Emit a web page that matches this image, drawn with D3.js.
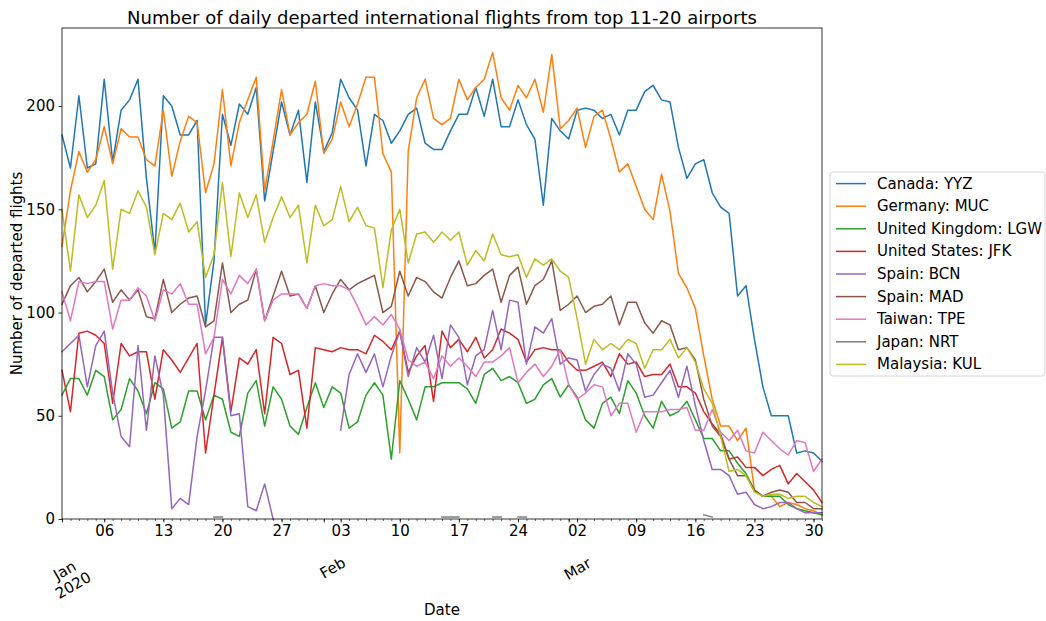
<!DOCTYPE html>
<html><head><meta charset="utf-8">
<script src="https://cdn.jsdelivr.net/npm/d3@7"></script>
<style>body{margin:0;background:#fff;} text{font-family:"DejaVu Sans",sans-serif;fill:#000;}</style>
</head><body><svg id="chart" width="1046" height="621"></svg>
<script>
const startDate = "2020-01-01", endDate = "2020-03-31";
const yTicks = [0, 50, 100, 150, 200];
const monthTicks = ["2020-01-01", "2020-02-01", "2020-03-01"];
const monthLabels = [["Jan", "2020"], ["Feb"], ["Mar"]];
const titleText = "Number of daily departed international flights from top 11-20 airports";
const yLabel = "Number of departed flights";
const xLabel = "Date";
const seriesNames = ["Canada: YYZ", "Germany: MUC", "United Kingdom: LGW", "United States: JFK", "Spain: BCN", "Spain: MAD", "Taiwan: TPE", "Japan: NRT", "Malaysia: KUL"];
const colors = ["#1f77b4", "#ff7f0e", "#2ca02c", "#d62728", "#9467bd", "#8c564b", "#e377c2", "#7f7f7f", "#bcbd22"];

const yyz = [186,170,205,170,172,213,173,198,203,213,165,129,205,200,186,186,193,94,125,196,181,201,196,209,154,178,202,186,198,163,202,
  178,187,213,204,198,171,196,193,182,188,196,199,182,179,179,188,196,196,209,195,213,190,190,203,191,184,152,194,188,
  184,198,199,198,194,196,186,198,198,207,210,203,202,180,165,172,174,158,151,148,108,113,87,64,50,50,50,32,33,32,28];
const muc = [132,159,178,168,174,190,172,189,185,185,174,171,198,166,183,195,192,158,172,208,171,192,203,214,159,183,208,186,192,196,212,
  177,184,202,190,201,214,214,177,168,32,178,204,213,194,191,194,213,203,209,213,226,204,198,210,204,213,197,225,189,
  193,199,180,195,198,184,168,172,161,150,145,167,149,119,112,102,79,58,45,45,38,44,14,11,11,6,8,7,5,4,2];
const lgw = [60,68,68,60,72,69,48,53,68,62,51,66,63,44,47,62,62,48,60,58,42,40,61,67,45,64,58,45,41,54,66,
  54,64,61,44,47,60,66,60,29,67,58,48,64,64,66,66,66,63,56,70,73,67,69,66,56,58,65,68,59,
  65,59,48,44,56,59,51,67,61,50,44,57,50,52,57,48,39,39,33,33,27,22,14,11,11,11,7,5,4,3,2];
const jfk = [72,52,90,91,89,85,56,85,79,81,81,58,82,77,71,78,85,32,60,88,52,78,75,82,51,88,85,70,72,44,83,
  82,81,83,82,82,80,89,86,82,91,71,79,84,57,91,83,87,81,88,78,82,92,90,87,76,82,83,82,82,
  76,72,72,74,76,69,80,75,76,69,70,70,75,64,64,61,52,46,41,29,30,25,25,21,24,26,17,22,18,14,8];
const bcn = [81,85,89,64,84,91,61,40,35,84,43,79,60,5,10,7,40,62,88,88,50,51,6,4,17,0,null,null,null,null,null,
  null,null,43,70,80,71,80,64,79,91,69,83,76,89,68,94,88,65,79,82,101,82,106,105,75,93,90,97,75,
  78,77,62,70,75,73,62,80,75,59,60,66,72,59,74,55,38,24,24,21,12,13,7,5,6,8,8,5,3,3,3];
const mad = [104,113,117,110,115,121,105,111,106,111,98,97,116,100,104,107,108,93,96,124,100,104,106,121,96,108,120,108,109,102,113,
  100,109,116,111,114,116,118,100,103,120,108,117,115,110,107,117,125,113,114,118,121,105,118,122,104,113,116,125,101,
  104,108,100,103,104,108,94,105,105,95,90,96,94,82,83,77,58,45,40,29,21,21,14,11,13,14,13,8,8,5,5];
const tpe = [110,96,115,114,115,115,92,106,106,112,108,96,111,109,114,104,104,80,88,116,109,118,114,121,96,106,109,109,109,102,113,
  114,113,113,111,103,94,98,94,99,92,77,74,76,68,79,74,78,74,69,76,76,79,83,66,71,75,69,74,82,
  65,58,61,65,64,50,56,56,42,52,52,52,53,53,54,43,43,53,42,38,43,33,32,42,38,34,31,38,37,23,29];
const nrt = [null,null,null,null,null,null,null,null,null,null,null,null,null,null,null,null,null,null,1,1,null,null,null,null,null,null,null,null,null,null,null,
  null,null,null,null,null,null,null,null,null,null,null,null,null,null,1,1,1,null,null,null,1,1,null,1,1,null,null,null,null,
  null,null,null,null,null,null,null,null,null,null,null,null,null,null,null,null,2,1,null,null,null,null,null,null,null,null,null,null,null,null,null];
const kul = [150,120,157,146,152,164,121,150,148,159,151,128,148,145,153,139,144,117,128,163,127,158,146,157,134,146,156,146,152,124,152,
  142,145,161,144,151,142,141,112,140,150,124,138,139,134,139,135,139,123,130,125,138,128,127,128,117,126,123,126,120,
  117,97,75,87,82,85,82,87,85,73,82,82,87,78,83,76,63,56,40,23,24,21,13,11,12,12,10,11,11,8,6];
const seriesValues = [yyz, muc, lgw, jfk, bcn, mad, tpe, nrt, kul];

const parse = d3.utcParse("%Y-%m-%d");
const d0 = parse(startDate), d1 = parse(endDate);
const dates = d3.utcDay.range(d0, d3.utcDay.offset(d1, 1));

const svg = d3.select("#chart");
const L = 62, R = 822, T = 28, B = 519;
const FS = 15;
const x = d3.scaleUtc().domain([d0, d1]).range([L, R]);
const y = d3.scaleLinear().domain([0, 237.8]).range([B, T]);

// lines
const line = d3.line().defined(d => d != null).x((d, i) => x(dates[i])).y(d => y(d));
const gLines = svg.append("g");
seriesValues.forEach((vals, k) => {
  gLines.append("path").datum(vals).attr("d", line)
    .attr("fill", "none").attr("stroke", colors[k]).attr("stroke-width", 1.5)
    .attr("stroke-linejoin", "round").attr("stroke-linecap", "square");
});

// frame
svg.append("rect").attr("x", L).attr("y", T).attr("width", R - L).attr("height", B - T)
  .attr("fill", "none").attr("stroke", "#000").attr("stroke-width", 0.8);

// y axis
const yAxis = svg.append("g").attr("transform", `translate(${L},0)`)
  .call(d3.axisLeft(y).tickValues(yTicks).tickSize(3.5).tickPadding(3.5));
yAxis.select(".domain").remove();
yAxis.selectAll("text").attr("font-size", FS).style("font-family", "DejaVu Sans");
yAxis.selectAll("line").attr("stroke-width", 0.8);

// x axis: daily minor ticks
const xMinor = svg.append("g").attr("transform", `translate(0,${B})`)
  .call(d3.axisBottom(x).tickValues(dates).tickSize(2).tickFormat(""));
xMinor.select(".domain").remove();
xMinor.selectAll("line").attr("stroke-width", 0.6);
// weekly labelled ticks
const weekly = d3.utcMonday.range(d0, d3.utcDay.offset(d1, 1));
const xMajor = svg.append("g").attr("transform", `translate(0,${B})`)
  .call(d3.axisBottom(x).tickValues(weekly).tickSize(3.5).tickPadding(3).tickFormat(d3.utcFormat("%d")));
xMajor.select(".domain").remove();
xMajor.selectAll("text").attr("font-size", FS).style("font-family", "DejaVu Sans");
xMajor.selectAll("line").attr("stroke-width", 0.8);
// month ticks
const monthDates = monthTicks.map(parse);
const xMonth = svg.append("g").attr("transform", `translate(0,${B})`)
  .call(d3.axisBottom(x).tickValues(monthDates).tickSize(3.5).tickFormat(""));
xMonth.select(".domain").remove();
xMonth.selectAll("line").attr("stroke-width", 0.8);

const monthOffsets = [[7, 59], [9, 49], [9, 50]];
monthDates.forEach((d, i) => {
  const g = svg.append("g")
    .attr("transform", `translate(${x(d) + monthOffsets[i][0]},${B + monthOffsets[i][1]}) rotate(-30)`);
  const lines = monthLabels[i];
  lines.forEach((t, j) => {
    g.append("text").attr("text-anchor", "middle").attr("dominant-baseline", "central")
      .attr("font-size", FS).attr("y", (j - (lines.length - 1) / 2) * 17).text(t);
  });
});

// labels
svg.append("text").attr("x", (L + R) / 2).attr("y", 24).attr("text-anchor", "middle")
  .attr("font-size", 18).text(titleText);
svg.append("text").attr("transform", `translate(17,${(T + B) / 2}) rotate(-90)`)
  .attr("text-anchor", "middle").attr("dominant-baseline", "central").attr("font-size", FS).text(yLabel);
svg.append("text").attr("x", (L + R) / 2).attr("y", 615).attr("text-anchor", "middle")
  .attr("font-size", FS).text(xLabel);

// legend
const lg = svg.append("g");
lg.append("rect").attr("x", 830).attr("y", 172).attr("width", 215).attr("height", 204)
  .attr("rx", 3).attr("fill", "#fff").attr("stroke", "#d6d6d6").attr("stroke-width", 1);
seriesNames.forEach((name, i) => {
  const yy = 183.6 + i * 22.6;
  lg.append("line").attr("x1", 836).attr("x2", 866).attr("y1", yy).attr("y2", yy)
    .attr("stroke", colors[i]).attr("stroke-width", 1.5);
  lg.append("text").attr("x", 877).attr("y", yy).attr("dominant-baseline", "central")
    .attr("font-size", FS).text(name);
});
</script></body></html>
